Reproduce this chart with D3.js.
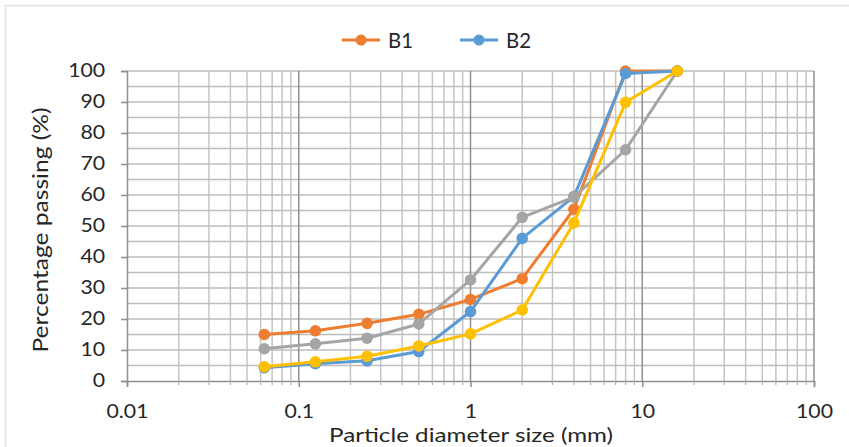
<!DOCTYPE html>
<html><head><meta charset="utf-8">
<script src="https://cdn.jsdelivr.net/npm/d3@7"></script>
<style>body{margin:0;background:#fff;}svg{display:block;}</style>
</head><body>
<svg id="c" width="849" height="447"></svg>
<script>
const sizes = [0.063, 0.125, 0.25, 0.5, 1, 2, 4, 8, 16];
const B1 = [15, 16.2, 18.6, 21.5, 26.3, 33, 55.4, 100, 100];
const B2 = [4.3, 5.6, 6.5, 9.5, 22.4, 46, 59.5, 99.2, 100];
const B3 = [10.4, 12, 13.8, 18.4, 32.6, 52.8, 59.3, 74.6, 100];
const B4 = [4.6, 6.2, 8, 11.3, 15.2, 22.9, 51, 89.9, 100];
const seriesNames = ["B1", "B2", "B3", "B4"];
const legendNames = ["B1", "B2"];
const xTickValues = [0.01, 0.1, 1, 10, 100];
const xTickLabels = ["0.01", "0.1", "1", "10", "100"];
const yTickValues = [0, 10, 20, 30, 40, 50, 60, 70, 80, 90, 100];

const colors = {B1: "#ED7D31", B2: "#5B9BD5", B3: "#A5A5A5", B4: "#FFC000"};
const seriesData = {B1, B2, B3, B4};
const font = "Lato, 'Open Sans', sans-serif";
const textCol = "#262626";

const svg = d3.select("#c");
const L = 127, R = 814, T = 71, B = 381;
const x = d3.scaleLog().domain([0.01, 100]).range([L, R]);
const y = d3.scaleLinear().domain([0, 100]).range([B, T]);

// frame
svg.append("line").attr("x1", 5).attr("x2", 849).attr("y1", 5.5).attr("y2", 5.5).attr("stroke", "#e2e2e2").attr("stroke-width", 1.5);
svg.append("line").attr("x1", 5.5).attr("x2", 5.5).attr("y1", 5).attr("y2", 447).attr("stroke", "#e2e2e2").attr("stroke-width", 1.5);

// minor vertical grid
const minorX = [];
for (let d = 0.01; d < 100; d *= 10) for (let k = 2; k <= 9; k++) minorX.push(d * k);
const g = svg.append("g");
g.selectAll(".vmin").data(minorX).join("line")
  .attr("x1", d => x(d)).attr("x2", d => x(d)).attr("y1", T).attr("y2", B)
  .attr("stroke", "#c4c4c4").attr("stroke-width", 1.5);
// horizontal grid (every 5)
g.selectAll(".h").data(d3.range(5, 101, 5)).join("line")
  .attr("x1", L).attr("x2", R).attr("y1", d => y(d)).attr("y2", d => y(d))
  .attr("stroke", "#bdbdbd").attr("stroke-width", 1.5);
// major vertical
g.selectAll(".vmaj").data(xTickValues.slice(1)).join("line")
  .attr("x1", d => x(d)).attr("x2", d => x(d)).attr("y1", T).attr("y2", B)
  .attr("stroke", "#8f8f8f").attr("stroke-width", 1.5);

// axes
const xAxis = d3.axisBottom(x).tickValues(xTickValues).tickFormat((d, i) => xTickLabels[i]).tickSize(6).tickPadding(18);
const xg = svg.append("g").attr("transform", `translate(0,${B})`).call(xAxis);
xg.select(".domain").attr("stroke", "#8f8f8f").attr("stroke-width", 1.5);
xg.selectAll(".tick line").attr("stroke", "#8f8f8f").attr("stroke-width", 1.5);
xg.selectAll("text").attr("font-family", font).attr("font-size", 18.5).attr("fill", textCol)
  .attr("transform", "scale(1.15,1)");
// minor x ticks
svg.append("g").selectAll("line").data(minorX).join("line")
  .attr("x1", d => x(d)).attr("x2", d => x(d)).attr("y1", B).attr("y2", B + 4)
  .attr("stroke", "#b0b0b0").attr("stroke-width", 1.2);

const yAxis = d3.axisLeft(y).tickValues(yTickValues).tickSize(6).tickPadding(13);
const yg = svg.append("g").attr("transform", `translate(${L},0)`).call(yAxis);
yg.select(".domain").attr("stroke", "#8f8f8f").attr("stroke-width", 1.5);
yg.selectAll(".tick line").attr("stroke", "#8f8f8f").attr("stroke-width", 1.5);
yg.selectAll("text").attr("font-family", font).attr("font-size", 18.5).attr("fill", textCol)
  .attr("transform", "scale(1.15,1)");

// axis titles
svg.append("text").attr("x", 471).attr("y", 442).attr("text-anchor", "middle")
  .attr("font-family", font).attr("font-size", 20).attr("fill", textCol)
  .attr("textLength", 284).attr("lengthAdjust", "spacingAndGlyphs")
  .text("Particle diameter size (mm)");
svg.append("text").attr("transform", "translate(48,230) rotate(-90)").attr("text-anchor", "middle")
  .attr("font-family", font).attr("font-size", 22).attr("fill", textCol)
  .attr("textLength", 245).attr("lengthAdjust", "spacingAndGlyphs")
  .text("Percentage passing (%)");

// series
const line = d3.line().x(d => x(d[0])).y(d => y(d[1]));
seriesNames.forEach(name => {
  const pts = sizes.map((s, i) => [s, seriesData[name][i]]);
  const sg = svg.append("g");
  sg.append("path").datum(pts).attr("d", line).attr("fill", "none")
    .attr("stroke", colors[name]).attr("stroke-width", 3).attr("stroke-linejoin", "round");
  sg.selectAll("circle").data(pts).join("circle")
    .attr("cx", d => x(d[0])).attr("cy", d => y(d[1])).attr("r", 5.8).attr("fill", colors[name]);
});

// legend
const lgX = [342, 460];
legendNames.forEach((name, i) => {
  const lg = svg.append("g").attr("transform", `translate(${lgX[i]},40)`);
  lg.append("line").attr("x1", 0).attr("x2", 38).attr("y1", 0).attr("y2", 0).attr("stroke", colors[name]).attr("stroke-width", 3);
  lg.append("circle").attr("cx", 19).attr("cy", 0).attr("r", 5.5).attr("fill", colors[name]);
  lg.append("text").attr("x", 46).attr("y", 8).attr("font-family", font).attr("font-size", 21).attr("fill", textCol)
    .attr("textLength", 25).attr("lengthAdjust", "spacingAndGlyphs").text(name);
});
</script>
</body></html>
